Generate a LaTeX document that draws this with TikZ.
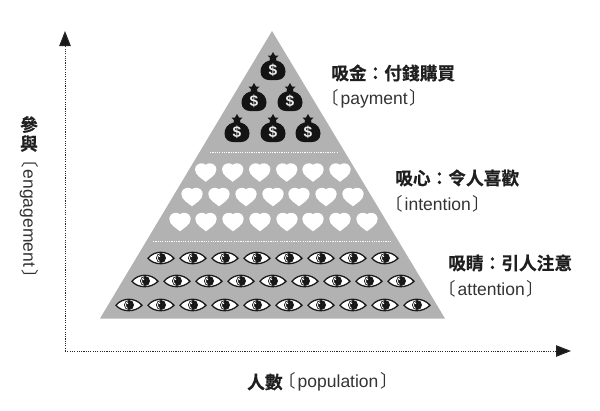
\documentclass[tikz,border=0pt]{standalone}
\usepackage{fontspec}
\usetikzlibrary{arrows.meta}
\setmainfont{Liberation Sans}
\newfontfamily\cjkb[FakeBold=0.5]{Noto Sans CJK TC Bold}
\newfontfamily\cjkbr{Noto Sans CJK JP}
\newcommand{\lb}{{\cjkbr〔}\kern1.5pt}
\newcommand{\rb}{\kern2pt{\cjkbr〕}}
\definecolor{pyrgray}{gray}{0.70}
\tikzset{
  axisline/.style={line width=1pt,black!85,dash pattern=on 1.1pt off 1.2pt,
    -{Triangle[length=15pt,width=11.5pt,fill=black!90]}},
  sepline/.style={white,line width=0.9pt,dash pattern=on 1.2pt off 1.1pt},
  pyr/.style={fill=pyrgray,draw=none},
  headtxt/.style={anchor=west,inner sep=0,font=\fontsize{17.7}{18}\cjkb,text=black!88},
  subtxt/.style={anchor=west,inner sep=0,font=\fontsize{17.5}{18}\selectfont,text=black!80},
  bag/.pic={
    \fill[black!92] (-3.6,-6.5) .. controls (-9.5,-5) and (-12.5,-0.5) .. (-12.5,4.5)
      .. controls (-12.5,10.5) and (-8,13) .. (-4,13) -- (4,13)
      .. controls (8,13) and (12.5,10.5) .. (12.5,4.5)
      .. controls (12.5,-0.5) and (9.5,-5) .. (3.6,-6.5) -- cycle;
    \fill[black!92] (-5.5,-11.5) -- (-2,-11.5) -- (0,-15) -- (2,-11.5) -- (5.5,-11.5)
      -- (3,-9) -- (3.6,-5) -- (-3.6,-5) -- (-3,-9) -- cycle;
    \node[inner sep=0,text=white!92!black,font=\fontsize{15.5}{15.5}\bfseries] at (0,3) {\$};
  },
  eyepic/.pic={
    \draw[fill=white,draw=black!90,line width=1.3pt]
      (-13,0.3) .. controls (-7,-7.5) and (6,-8) .. (13,0.3)
      .. controls (6,7.5) and (-7,7.5) .. (-13,0.3) -- cycle;
    \fill[black!90] (0,0) circle (5);
    \draw[white,line width=0.8pt] (-1.5,-3.4) .. controls (-4.2,-2.2) and (-4.2,2.2) .. (-1.5,3.4);
    \fill[white] (-1.6,-1.6) circle (0.8);
  },
  heartpic/.pic={
    \fill[white] (0,9.3) .. controls (-3,6.5) and (-10.7,3) .. (-10.7,-3)
      .. controls (-10.7,-7.5) and (-6.5,-9.2) .. (-4,-9.2)
      .. controls (-2,-9.2) and (-0.8,-8.4) .. (0,-7.6)
      .. controls (0.8,-8.4) and (2,-9.2) .. (4,-9.2)
      .. controls (6.5,-9.2) and (10.7,-7.5) .. (10.7,-3)
      .. controls (10.7,3) and (3,6.5) .. (0,9.3) -- cycle;
  }
}
\begin{document}
\begin{tikzpicture}[x=1pt,y=-1pt]
\useasboundingbox (0,0) rectangle (600,410);
\coordinate (origin) at (65,351);
\coordinate (ytip) at (65,31);
\coordinate (xtip) at (571,351);
\fill[pyr] (272,31) -- (445,318.5) -- (100,318.5) -- cycle;
\draw[axisline] (origin) -- (ytip);
\draw[axisline] (origin) -- (xtip);
\coordinate (s1a) at (210,152.5); \coordinate (s1b) at (337,152.5);
\coordinate (s2a) at (153,241); \coordinate (s2b) at (392,241);
\draw[sepline] (s1a) -- (s1b);
\draw[sepline] (s2a) -- (s2b);
% bags
\foreach \x/\y in {273/67, 254/98, 290/98, 237/129, 273/129, 308/129}
  \pic at (\x,\y) {bag};
% hearts
\foreach \x in {205.7,232.7,259.7,286.7,313,340} \pic at (\x,172.5) {heartpic};
\foreach \x in {192,219,246,273,299,326,353} \pic at (\x,197) {heartpic};
\foreach \x in {180,206,233,260,287,313,340,367} \pic at (\x,222) {heartpic};
% eyes
\foreach \x in {161,193,225,257,289,321,353,385} \pic at (\x,258) {eyepic};
\foreach \x in {145,177,209,241,273,305,337,369,401} \pic at (\x,281) {eyepic};
\foreach \x in {129,161,193,225,257,289,321,353,385,417} \pic at (\x,305) {eyepic};
% labels
\node[headtxt] (h1) at (331,73) {吸金：付錢購買};
\node[subtxt] (s1) at (321.5,98.5) {\lb payment\rb};
\node[headtxt] (h2) at (395,178) {吸心：令人喜歡};
\node[subtxt] (s2) at (385.5,204) {\lb intention\rb};
\node[headtxt] (h3) at (448,263) {吸睛：引人注意};
\node[subtxt] (s3) at (438.5,288.5) {\lb attention\rb};
\node[anchor=center,inner sep=0,font=\fontsize{17.7}{18}\cjkb,text=black!88] (ycjk1) at (29,124.5) {參};
\node[anchor=center,inner sep=0,font=\fontsize{17.7}{18}\cjkb,text=black!88] (ycjk2) at (29,143.5) {與};
\node[anchor=west,rotate=-90,inner sep=0,font=\fontsize{17.5}{18}\selectfont,text=black!80] (ylab) at (29,150.5) {\lb engagement\rb};
\node[anchor=west,inner sep=0,font=\fontsize{17.7}{18}\cjkb,text=black!88] (xcjk) at (247,382) {人數};
\node[anchor=west,inner sep=0,font=\fontsize{17.5}{18}\selectfont,text=black!80] (xlab) at (278.5,382) {\lb population\rb};
\end{tikzpicture}
\end{document}
